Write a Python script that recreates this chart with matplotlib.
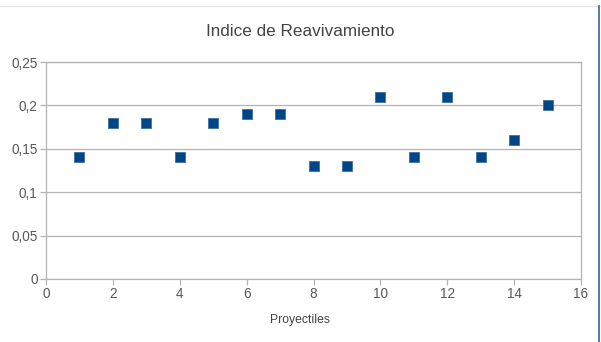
import matplotlib

matplotlib.use("Agg")
import matplotlib.pyplot as plt
from matplotlib.lines import Line2D
from matplotlib.ticker import FuncFormatter

# data
proyectiles = [1, 2, 3, 4, 5, 6, 7, 8, 9, 10, 11, 12, 13, 14, 15]
indice = [0.14, 0.18, 0.18, 0.14, 0.18, 0.19, 0.19, 0.13, 0.13, 0.21, 0.14, 0.21, 0.14, 0.16, 0.20]
x_ticks = [0, 2, 4, 6, 8, 10, 12, 14, 16]
y_ticks = [0, 0.05, 0.1, 0.15, 0.2, 0.25]

GRAY = "#b3b3b3"
TEXT = "#595959"
BLUE = "#004586"

plt.rcParams["font.family"] = ["Liberation Sans", "DejaVu Sans"]

fig = plt.figure(figsize=(6.01, 3.42), dpi=100)
ax = fig.add_axes([46 / 601, 63 / 342, 535 / 601, 217 / 342])

ax.scatter(proyectiles, indice, marker="s", s=60, color=BLUE, edgecolors="#3b6fa0",
           linewidths=0.6, zorder=3)

ax.set_xlim(0, 16)
ax.set_ylim(0, 0.25)
ax.set_xticks(x_ticks)
ax.set_yticks(y_ticks)


def comma(v, pos):
    s = f"{v:.2f}".rstrip("0").rstrip(".")
    return s.replace(".", ",")


ax.yaxis.set_major_formatter(FuncFormatter(comma))
ax.xaxis.set_major_formatter(FuncFormatter(comma))
ax.grid(axis="y", color=GRAY, linewidth=0.9)
ax.set_axisbelow(True)
for sp in ax.spines.values():
    sp.set_color(GRAY)
    sp.set_linewidth(0.9)
ax.tick_params(colors=GRAY, labelcolor=TEXT, labelsize=9.8, length=4, width=0.9, pad=2)

# title and axis label are centred on the whole figure, not the plot area
fig.text(300 / 601, 1 - 32 / 342, "Indice de Reavivamiento", fontsize=12.3, color="#444444",
         ha="center", va="center")
fig.text(300 / 601, 1 - 320 / 342, "Proyectiles", fontsize=8.8, color="#444444",
         ha="center", va="center")

# window frame lines seen at the image edges
fig.add_artist(Line2D([0, 1], [1 - 6 / 342, 1 - 6 / 342], transform=fig.transFigure,
                      color="#e4e4e4", linewidth=0.8))
fig.add_artist(Line2D([599 / 601, 599 / 601], [0, 1 - 6 / 342], transform=fig.transFigure,
                      color="#3465a4", linewidth=1.2))

fig.savefig("out.png", dpi=100)
